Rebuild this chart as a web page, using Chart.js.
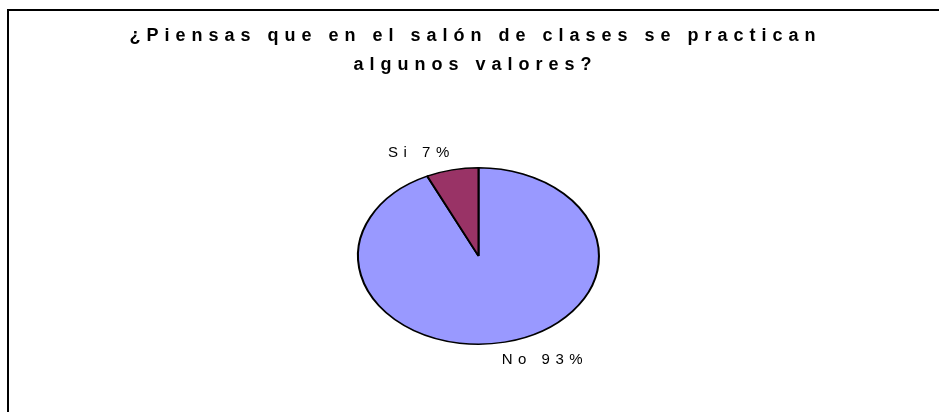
<!DOCTYPE html>
<html>
<head>
<meta charset="utf-8">
<script src="https://cdn.jsdelivr.net/npm/chart.js@4"></script>
<style>
  html, body { margin: 0; padding: 0; background: #fff; overflow: hidden; }
  #wrap { position: relative; width: 939px; height: 412px; }
  #frame {
    position: absolute; left: 7px; top: 9px; width: 1000px; height: 500px;
    border: 2px solid #000; pointer-events: none;
  }
</style>
</head>
<body>
<div id="wrap">
  <canvas id="grafico" width="939" height="412"></canvas>
  <div id="frame"></div>
</div>
<script>
// datos
const categorias = ['No', 'Si'];
const porcentajes = [93, 7];
const colores = ['#9999FF', '#993366'];
const titulo = ['¿Piensas que en el salón de clases se practican', 'algunos valores?'];

// el pastel de Excel sale ovalado
const STRETCH = 1.365;
const FUENTE = '"Liberation Sans", Arial, sans-serif';
const ESPACIO_TITULO = 6;
const ESPACIO_ETIQUETA = 5.5;

// titulo en dos lineas con letras separadas (como en Excel)
const lineasY = [36, 65];

const tituloExcel = {
    id: 'tituloExcel',
    afterDraw(chart) {
        const ctx = chart.ctx;
        ctx.save();
        ctx.font = 'bold 18px ' + FUENTE;
        ctx.fillStyle = '#000';
        ctx.textAlign = 'center';
        ctx.textBaseline = 'middle';
        ctx.letterSpacing = ESPACIO_TITULO + 'px';
        titulo.forEach((t, i) => {
            ctx.fillText(t, chart.width / 2 + 3 + ESPACIO_TITULO / 2, lineasY[i]);
        });
        ctx.restore();
    }
};

const ovalado = {
    id: 'ovalado',
    beforeDatasetsDraw(chart) {
        const arc = chart.getDatasetMeta(0).data[0];
        const ctx = chart.ctx;
        ctx.save();
        ctx.translate(arc.x, arc.y);
        ctx.scale(STRETCH, 1);
        ctx.translate(-arc.x, -arc.y);
    },
    afterDatasetsDraw(chart) {
        chart.ctx.restore();
    },
    afterDraw(chart) {
        const ctx = chart.ctx;
        const meta = chart.getDatasetMeta(0);
        ctx.save();
        ctx.letterSpacing = ESPACIO_ETIQUETA + 'px';
        ctx.font = '15px ' + FUENTE;
        ctx.fillStyle = '#000';
        meta.data.forEach((arc, i) => {
            const p = arc.getProps(['x', 'y', 'startAngle', 'endAngle', 'outerRadius'], true);
            const mid = (p.startAngle + p.endAngle) / 2;
            const c = Math.cos(mid), s = Math.sin(mid);
            let px = p.x + c * p.outerRadius * STRETCH - 3;
            const py = p.y + s * (p.outerRadius + 10);
            if (c < 0) px += ESPACIO_ETIQUETA; // el espacio final no se ve
            ctx.textAlign = c < 0 ? 'right' : 'left';
            ctx.textBaseline = s < 0 ? 'bottom' : 'top';
            ctx.fillText(categorias[i] + ' ' + porcentajes[i] + '%', px, py);
        });
        ctx.restore();
    }
};

const ctx = document.getElementById('grafico').getContext('2d');
const chart = new Chart(ctx, {
    type: 'pie',
    data: {
        labels: categorias,
        datasets: [{
            data: porcentajes,
            backgroundColor: colores,
            borderColor: '#000',
            borderWidth: 1.5,
            hoverOffset: 0
        }]
    },
    options: {
        responsive: false,
        animation: false,
        layout: { padding: { left: 18, right: 0, top: 167, bottom: 67 } },
        plugins: {
            legend: { display: false },
            tooltip: { enabled: false },
            title: { display: false }
        }
    },
    plugins: [ovalado, tituloExcel]
});
</script>
</body>
</html>
